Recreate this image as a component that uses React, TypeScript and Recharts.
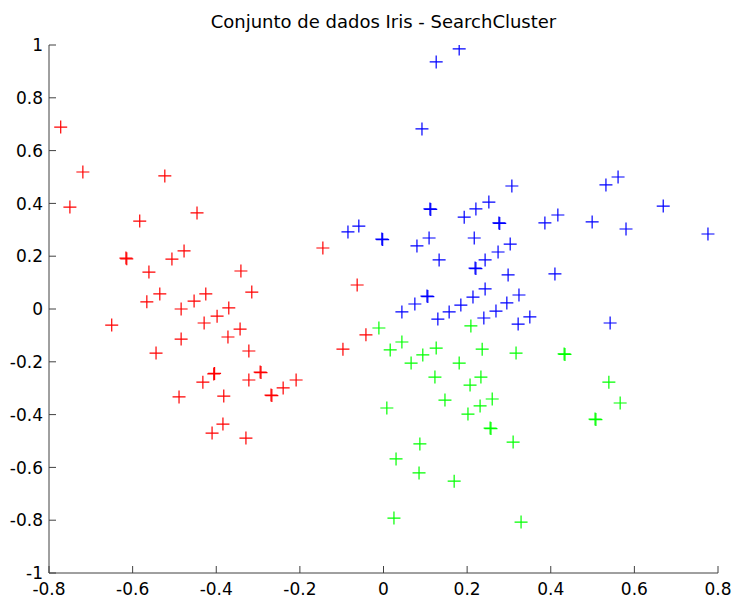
import { Scatter, ScatterChart, XAxis, YAxis } from "recharts";

// cluster points, [x, y]
const cluster1: [number, number][] = [
  [-0.772, 0.689], [-0.719, 0.519], [-0.75, 0.386], [-0.523, 0.504], [-0.583, 0.333],
  [-0.446, 0.364], [-0.616, 0.193], [-0.614, 0.19], [-0.506, 0.189], [-0.477, 0.22],
  [-0.561, 0.14], [-0.535, 0.057], [-0.566, 0.027], [-0.65, -0.061], [-0.484, 0.0],
  [-0.453, 0.03], [-0.425, 0.057], [-0.37, 0.004], [-0.398, -0.027], [-0.429, -0.053],
  [-0.372, -0.106], [-0.484, -0.114], [-0.544, -0.167], [-0.406, -0.246], [-0.404, -0.244],
  [-0.432, -0.277], [-0.382, -0.33], [-0.489, -0.333], [-0.384, -0.436], [-0.41, -0.47],
  [-0.341, 0.144], [-0.315, 0.064], [-0.343, -0.076], [-0.322, -0.159], [-0.295, -0.239],
  [-0.293, -0.241], [-0.322, -0.269], [-0.209, -0.269], [-0.24, -0.299], [-0.269, -0.326],
  [-0.267, -0.328], [-0.145, 0.231], [-0.063, 0.091], [-0.042, -0.098], [-0.097, -0.152],
  [-0.329, -0.489],
];

const cluster2: [number, number][] = [
  [0.181, 0.985], [0.126, 0.936], [0.092, 0.682], [0.307, 0.466], [0.252, 0.405],
  [0.221, 0.379], [0.111, 0.379], [0.113, 0.377], [0.193, 0.348], [0.276, 0.326],
  [0.278, 0.324], [0.386, 0.326], [-0.085, 0.292], [-0.059, 0.314], [-0.004, 0.265],
  [-0.002, 0.263], [0.109, 0.269], [0.08, 0.239], [0.217, 0.269], [0.303, 0.246],
  [0.274, 0.216], [0.133, 0.186], [0.243, 0.186], [0.219, 0.155], [0.221, 0.153],
  [0.298, 0.129], [0.243, 0.076], [0.324, 0.053], [0.104, 0.049], [0.106, 0.047],
  [0.214, 0.045], [0.075, 0.019], [0.185, 0.015], [0.295, 0.023], [0.044, -0.011],
  [0.157, -0.011], [0.269, -0.008], [0.13, -0.038], [0.24, -0.034], [0.35, -0.03],
  [0.322, -0.057], [0.532, 0.47], [0.561, 0.5], [0.669, 0.39], [0.417, 0.356],
  [0.499, 0.33], [0.58, 0.303], [0.776, 0.284], [0.41, 0.133], [0.542, -0.053],
];

const cluster3: [number, number][] = [
  [-0.011, -0.072], [0.209, -0.064], [0.044, -0.125], [0.016, -0.155], [0.126, -0.148],
  [0.094, -0.174], [0.066, -0.205], [0.236, -0.152], [0.317, -0.167], [0.432, -0.17],
  [0.434, -0.172], [0.181, -0.205], [0.123, -0.258], [0.233, -0.258], [0.207, -0.288],
  [0.147, -0.345], [0.26, -0.341], [0.231, -0.367], [0.008, -0.375], [0.202, -0.398],
  [0.255, -0.451], [0.257, -0.453], [0.31, -0.504], [0.087, -0.511], [0.03, -0.568],
  [0.085, -0.621], [0.169, -0.652], [0.025, -0.792], [0.329, -0.807], [0.539, -0.277],
  [0.566, -0.356], [0.506, -0.417], [0.508, -0.419],
];

const xTicks = [-0.8, -0.6, -0.4, -0.2, 0, 0.2, 0.4, 0.6, 0.8];
const yTicks = [-1, -0.8, -0.6, -0.4, -0.2, 0, 0.2, 0.4, 0.6, 0.8, 1];

const toPoints = (pts: [number, number][]) => pts.map(([x, y]) => ({ x, y }));

const FONT = "'DejaVu Sans', 'Liberation Sans', Arial, sans-serif";
const AXIS = "#404040";

const fmt = (v: number) => String(Number(v.toFixed(1)));

const plus = (color: string) => (props: any) => {
  const { cx, cy } = props;
  const r = 6.5;
  return (
    <path
      d={`M${cx - r},${cy}H${cx + r}M${cx},${cy - r}V${cy + r}`}
      stroke={color}
      strokeWidth={1.2}
      fill="none"
    />
  );
};

const YTick = (props: any) => {
  const { x, y, payload } = props;
  return (
    <g>
      <line x1={x} y1={y} x2={x + 7} y2={y} stroke={AXIS} strokeWidth={1} />
      <text x={x - 6} y={y} dy="0.36em" textAnchor="end" fontSize={17} fontFamily={FONT} fill="#000">
        {fmt(payload.value)}
      </text>
    </g>
  );
};

const XTick = (props: any) => {
  const { x, y, payload } = props;
  return (
    <g>
      <line x1={x} y1={y} x2={x} y2={y - 7} stroke={AXIS} strokeWidth={1} />
      <text x={x} y={y + 22} textAnchor="middle" fontSize={17} fontFamily={FONT} fill="#000">
        {fmt(payload.value)}
      </text>
    </g>
  );
};

export default function App() {
  return (
    <div style={{ position: "absolute", left: 0, top: 0, width: 736, height: 604, background: "#fff" }}>
      <div
        style={{
          position: "absolute",
          left: 0,
          top: 13,
          width: 767,
          textAlign: "center",
          fontFamily: FONT,
          fontSize: 18,
          lineHeight: 1,
          color: "#000",
        }}
      >
        Conjunto de dados Iris - SearchCluster
      </div>
      <ScatterChart width={736} height={604} margin={{ top: 45, right: 18, bottom: 0, left: 0 }}>
        <XAxis
          type="number"
          dataKey="x"
          domain={[-0.8, 0.8]}
          ticks={xTicks}
          interval={0}
          height={31}
          tickSize={0}
          tickMargin={0}
          tickLine={false}
          axisLine={{ stroke: AXIS, strokeWidth: 1 }}
          tick={<XTick />}
          allowDataOverflow
        />
        <YAxis
          type="number"
          dataKey="y"
          domain={[-1, 1]}
          ticks={yTicks}
          interval={0}
          width={49}
          tickSize={0}
          tickMargin={0}
          tickLine={false}
          axisLine={{ stroke: AXIS, strokeWidth: 1 }}
          tick={<YTick />}
          allowDataOverflow
        />
        <Scatter data={toPoints(cluster1)} shape={plus("#ff0000")} isAnimationActive={false} />
        <Scatter data={toPoints(cluster2)} shape={plus("#0000ff")} isAnimationActive={false} />
        <Scatter data={toPoints(cluster3)} shape={plus("#00ff00")} isAnimationActive={false} />
      </ScatterChart>
    </div>
  );
}
